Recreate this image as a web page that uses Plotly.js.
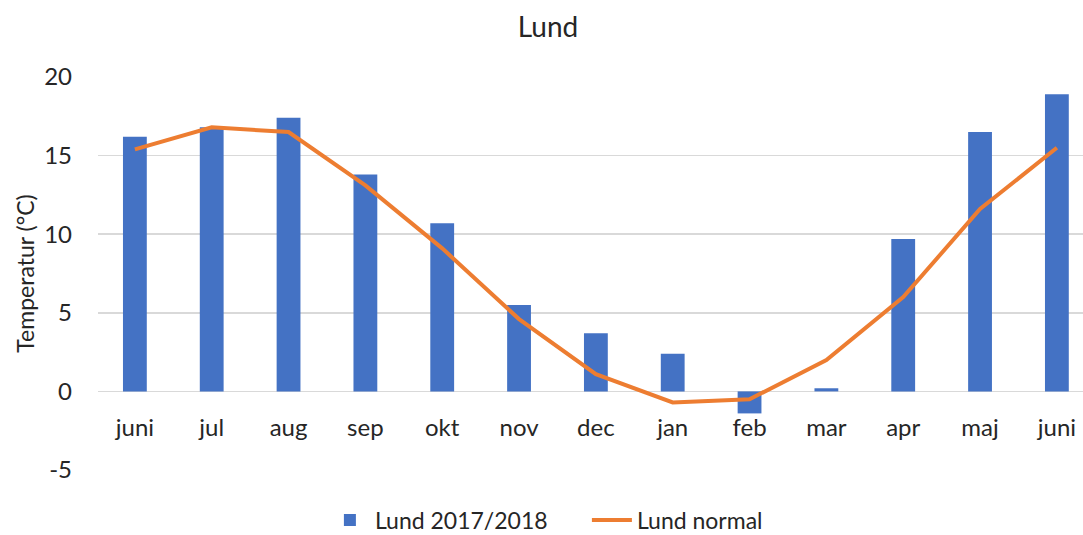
<!DOCTYPE html>
<html>
<head>
<meta charset="utf-8">
<script src="https://cdn.plot.ly/plotly-3.0.1.min.js"></script>
<style>html,body{margin:0;padding:0;background:#fff;}#chart{width:1083px;height:535px;}</style>
</head>
<body>
<div id="chart"></div>
<script>
const months = ["juni","jul","aug","sep","okt","nov","dec","jan","feb","mar","apr","maj","juni"];
const lund20172018 = [16.2, 16.8, 17.4, 13.8, 10.7, 5.5, 3.7, 2.4, -1.4, 0.2, 9.7, 16.5, 18.9];
const lundNormal = [15.4, 16.8, 16.5, 13.1, 9.1, 4.6, 1.1, -0.7, -0.5, 2.0, 6.0, 11.6, 15.5];
const yTicks = [-5, 0, 5, 10, 15, 20];
const yTickText = ["-5", "0", "5", "10", "15", "20"];

const xIdx = months.map((m, i) => i);
const font = "Lato, 'Open Sans', sans-serif";
const txt = "#262626";

const traces = [
  {
    type: "bar", name: "Lund 2017/2018", x: xIdx, y: lund20172018,
    marker: {color: "#4472C4"}, width: 0.31
  },
  {
    type: "scatter", mode: "lines", name: "Lund normal", x: xIdx, y: lundNormal,
    line: {color: "#ED7D31", width: 4}
  }
];

const layout = {
  width: 1083, height: 535,
  margin: {l: 98, r: 0, t: 77, b: 65},
  paper_bgcolor: "#fff", plot_bgcolor: "#fff",
  font: {family: font, color: txt},
  title: {text: "Lund", font: {family: font, size: 28, color: txt},
          x: 0.506, xref: "container", xanchor: "center", y: 0.95, yref: "container", yanchor: "middle"},
  xaxis: {
    range: [-0.48, 12.34], tickvals: xIdx, ticktext: months,
    showgrid: false, zeroline: false, showline: false,
    anchor: "free", position: 0.2, ticks: "", ticklabelstandoff: 20,
    tickfont: {family: font, size: 24, color: txt}
  },
  yaxis: {
    range: [-5, 20], tickvals: yTicks, ticktext: yTickText, showgrid: true, gridcolor: "#d9d9d9", gridwidth: 1.5,
    zeroline: true, zerolinecolor: "#d9d9d9", zerolinewidth: 1.5, showline: false, ticks: "",
    ticklabelstandoff: 25,
    tickfont: {family: font, size: 24, color: txt},
    title: {text: "Temperatur (°C)", font: {family: font, size: 23, color: txt}, standoff: 3}
  },
  bargap: 0.69,
  showlegend: true,
  legend: {orientation: "h", x: 0.3, xref: "container", xanchor: "left", y: 0.028, yref: "container", yanchor: "middle",
           font: {family: font, size: 23, color: txt}, itemwidth: 40, entrywidth: 207, traceorder: "normal"}
};

Plotly.newPlot("chart", traces, layout, {displayModeBar: false, staticPlot: true});
</script>
</body>
</html>
